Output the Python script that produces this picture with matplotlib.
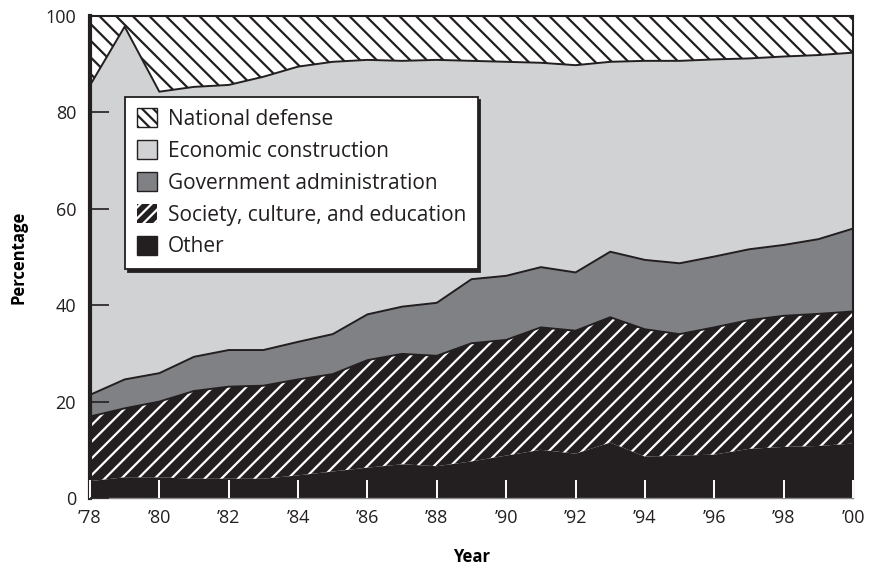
import numpy as np
import matplotlib
matplotlib.use("Agg")
import matplotlib.pyplot as plt
from matplotlib.patches import Patch

plt.rcParams['font.family'] = ['Open Sans', 'DejaVu Sans']
plt.rcParams['hatch.linewidth'] = 1.6

# share of budget expenditure by category, percent
years = np.arange(1978, 2001)
other = [3.5, 4.3, 4.3, 4.0, 4.0, 4.0, 4.7, 5.5, 6.3, 7.0, 6.6, 7.6,
         8.8, 10.0, 9.2, 11.5, 8.6, 8.8, 9.0, 10.2, 10.6, 10.8, 11.3]
society = [13.4, 14.3, 15.7, 18.2, 19.1, 19.3, 19.9, 20.2, 22.3, 22.9, 22.9, 24.5,
           24.0, 25.4, 25.5, 26.0, 26.4, 25.2, 26.4, 26.7, 27.2, 27.4, 27.4]
government = [4.5, 6.0, 5.9, 7.1, 7.6, 7.4, 7.8, 8.3, 9.5, 9.8, 11.0, 13.3,
              13.3, 12.5, 12.1, 13.6, 14.4, 14.7, 14.7, 14.7, 14.7, 15.5, 17.2]
economic = [64.2, 73.2, 58.4, 56.0, 55.0, 56.7, 57.1, 56.5, 52.8, 51.0, 50.4, 45.3,
            44.4, 42.4, 43.0, 39.4, 41.3, 42.0, 40.9, 39.6, 39.1, 38.2, 36.5]
defense = [14.4, 2.2, 15.7, 14.7, 14.3, 12.6, 10.5, 9.5, 9.1, 9.3, 9.1, 9.3,
           9.5, 9.7, 10.2, 9.5, 9.3, 9.3, 9.0, 8.8, 8.4, 8.1, 7.6]
tick_years = np.arange(1978, 2001, 2)
tick_labels = ["\u2019%02d" % (y % 100) for y in tick_years]

BLACK = '#231f20'
DARK = '#808184'
LIGHT = '#d1d2d4'

fig = plt.figure(figsize=(8.7, 5.7), dpi=100)
ax = fig.add_axes([0.1034, 0.1263, 0.8771, 0.8456])
ax.set_axisbelow(False)

b0 = np.zeros(len(years))
b1 = b0 + np.array(other)
b2 = b1 + np.array(society)
b3 = b2 + np.array(government)
b4 = b3 + np.array(economic)
b5 = b4 + np.array(defense)

ax.fill_between(years, b0, b1, facecolor=BLACK, linewidth=0)
ax.fill_between(years, b1, b2, facecolor=BLACK, linewidth=0)
ax.fill_between(years, b1, b2, facecolor='none', edgecolor='white', hatch='//', linewidth=0)
ax.fill_between(years, b2, b3, facecolor=DARK, linewidth=0)
ax.fill_between(years, b3, b4, facecolor=LIGHT, linewidth=0)
ax.fill_between(years, b4, b5, facecolor='white', edgecolor=BLACK, hatch='\\\\', linewidth=0)
for top in (b2, b3, b4):
    ax.plot(years, top, color=BLACK, lw=1.4)

ax.set_xlim(1978, 2000)
ax.set_ylim(0, 100)
ax.set_xticks(tick_years)
ax.set_xticklabels(tick_labels)
ax.set_yticks([0, 20, 40, 60, 80, 100])
ax.tick_params(axis='x', direction='in', length=13, width=1.4, color='white',
               labelcolor=BLACK, labelsize=13, pad=8)
ax.tick_params(axis='y', direction='in', length=14, width=1.2, color=BLACK,
               labelcolor=BLACK, labelsize=13, pad=10)

ax.spines['left'].set_linewidth(3)
ax.spines['top'].set_linewidth(1.5)
ax.spines['right'].set_linewidth(1.5)
ax.spines['bottom'].set_linewidth(1)
ax.spines['bottom'].set_color('#8a8a8a')
for s in ('left', 'top', 'right'):
    ax.spines[s].set_color(BLACK)

ax.set_xlabel('Year', fontsize=12, fontweight='bold', labelpad=15)
ax.set_ylabel('Percentage', fontsize=12, fontweight='bold', labelpad=13)

handles = [
    Patch(facecolor='white', edgecolor=BLACK, hatch='\\\\\\', label='National defense'),
    Patch(facecolor=LIGHT, edgecolor=BLACK, label='Economic construction'),
    Patch(facecolor=DARK, edgecolor=BLACK, label='Government administration'),
    Patch(facecolor=BLACK, edgecolor='white', hatch='///', linewidth=0,
          label='Society, culture, and education'),
    Patch(facecolor=BLACK, edgecolor=BLACK, label='Other'),
]
leg = ax.legend(handles=handles, loc='upper left', bbox_to_anchor=(0.046, 0.832),
                fontsize=15, frameon=True, fancybox=False, handlelength=1.0,
                handleheight=1.0, handletextpad=0.5, labelspacing=0.5,
                borderpad=0.55, borderaxespad=0,
                shadow={'ox': 2, 'oy': -2, 'facecolor': BLACK, 'edgecolor': BLACK, 'alpha': 1})
leg.get_frame().set_edgecolor(BLACK)
leg.get_frame().set_linewidth(1.3)
for t in leg.get_texts():
    t.set_color(BLACK)

fig.savefig('out.png', dpi=100)
